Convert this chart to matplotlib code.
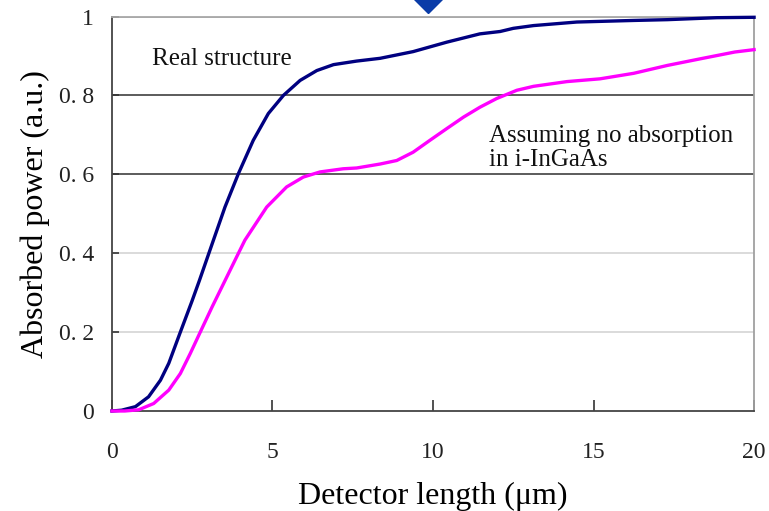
import matplotlib
matplotlib.use("Agg")
import matplotlib.pyplot as plt

# 讀圖估計的數據
x_real = [0, 0.3, 0.73, 1.14, 1.51, 1.77, 2.13, 2.49, 2.72, 3.16, 3.52, 3.94,
          4.40, 4.87, 5.34, 5.86, 6.38, 6.9, 7.62, 8.35, 9.38, 10.43, 11.46,
          12.09, 12.5, 13.13, 14.48, 16.25, 17.3, 18.84, 20]
y_real = [0, 0.002, 0.011, 0.036, 0.078, 0.121, 0.2, 0.278, 0.33, 0.433, 0.517,
          0.602, 0.686, 0.754, 0.8, 0.838, 0.863, 0.878, 0.887, 0.894, 0.911,
          0.935, 0.956, 0.962, 0.97, 0.977, 0.986, 0.99, 0.992, 0.997, 0.998]

x_noabs = [0, 0.4, 0.83, 1.3, 1.77, 2.13, 2.44, 2.75, 3.12, 3.53, 3.94, 4.14,
           4.82, 5.44, 5.96, 6.48, 7.2, 7.62, 8.35, 8.87, 9.38, 9.9, 10.43,
           10.95, 11.46, 11.98, 12.61, 13.13, 14.17, 15.2, 16.25, 17.3, 18.34,
           19.4, 20]
y_noabs = [0, 0.0, 0.003, 0.019, 0.053, 0.095, 0.146, 0.2, 0.264, 0.332, 0.4,
           0.433, 0.517, 0.568, 0.593, 0.606, 0.614, 0.616, 0.626, 0.635, 0.656,
           0.686, 0.716, 0.745, 0.77, 0.792, 0.813, 0.823, 0.835, 0.842, 0.856,
           0.876, 0.893, 0.91, 0.916]

xticks = [0, 5, 10, 15, 20]
yticks = [0, 0.2, 0.4, 0.6, 0.8, 1.0]
ytick_labels = ["0", "0. 2", "0. 4", "0. 6", "0. 8", "1"]

plt.rcParams['font.family'] = ['Liberation Serif', 'DejaVu Serif']

fig = plt.figure(figsize=(7.69, 5.11), dpi=100)
ax = fig.add_axes([0.1456, 0.1957, 0.835, 0.772])

# 格線（0.6 與 0.8 是深色）
grid_colors = {0.2: '#d4d4d4', 0.4: '#d4d4d4', 0.6: '#404040', 0.8: '#404040', 1.0: '#a8a8a8'}
for yv, c in grid_colors.items():
    ax.axhline(yv, color=c, lw=1.2, zorder=1)

ax.plot(x_real, y_real, color='#000080', lw=2.4, zorder=3, clip_on=False,
        solid_joinstyle='round')
ax.plot(x_noabs, y_noabs, color='#ff00ff', lw=2.4, zorder=3, clip_on=False,
        solid_joinstyle='round')

ax.set_xlim(0, 20)
ax.set_ylim(0, 1)
ax.set_xticks(xticks)
ax.set_xticklabels([str(v) for v in xticks])
ax.set_yticks(yticks)
ax.set_yticklabels(ytick_labels)
ax.tick_params(axis='x', direction='in', length=8, width=1.2, pad=22, labelsize=17, colors='#333333')
ax.tick_params(axis='y', direction='in', length=5, width=1.2, pad=13, labelsize=17, colors='#333333')
for lab in ax.get_xticklabels() + ax.get_yticklabels():
    lab.set_color('#222222')

ax.spines['left'].set_color('#444444')
ax.spines['bottom'].set_color('#444444')
ax.spines['right'].set_color('#a0a0a0')
ax.spines['top'].set_color('#a8a8a8')
for s in ax.spines.values():
    s.set_linewidth(1.3)

ax.set_xlabel('Detector length (μm)', fontsize=23, labelpad=14)
ax.set_ylabel('Absorbed power (a.u.)', fontsize=23, labelpad=6)

ax.text(1.25, 0.893, 'Real structure', fontsize=18, va='center', ha='left', color='#111111')
ax.text(11.73, 0.667, 'Assuming no absorption\nin i-InGaAs', fontsize=18, va='center',
        ha='left', color='#111111', linespacing=1.15)

# 頂部的藍色菱形標記（被裁切）
ax.plot([9.85], [1.057], marker='D', markersize=19, color='#0a3ca8', clip_on=False, zorder=5)

fig.savefig('out.png', dpi=100)
